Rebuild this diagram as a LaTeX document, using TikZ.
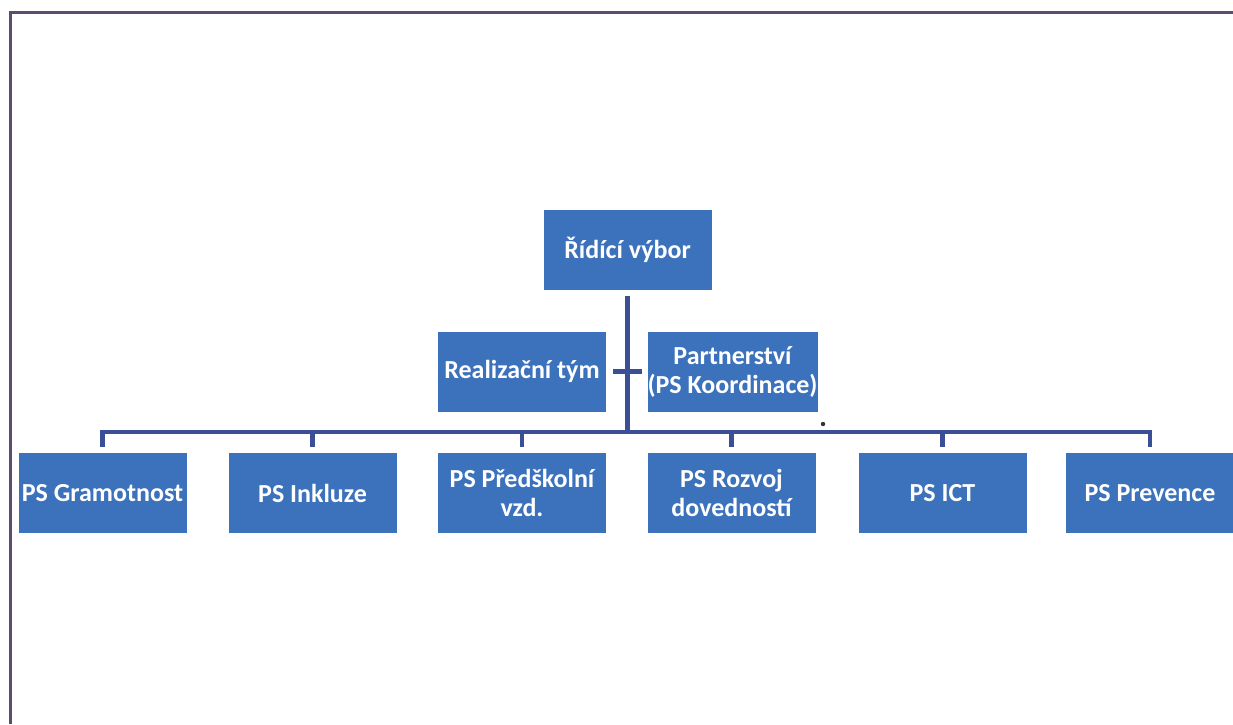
\documentclass[tikz,border=0pt]{standalone}
\usepackage{fontspec}
\setmainfont{Carlito}
\definecolor{boxblue}{HTML}{3C72BC}
\definecolor{connblue}{HTML}{3B4F97}
\definecolor{framec}{HTML}{5E4B70}
\begin{document}
\begin{tikzpicture}[x=1pt,y=-1pt,
  orgbox/.style={draw=none,fill=boxblue,minimum width=168pt,minimum height=80pt,inner sep=0pt,
    text=white,font=\fontsize{26}{29}\selectfont\bfseries,align=center},
  conn/.style={draw=connblue,line width=4.5pt}]
\useasboundingbox (0,0) rectangle (1233,724);
\fill[white] (0,0) rectangle (1233,724);
\draw[framec,line width=3pt] (10.5,724) -- (10.5,12) -- (1233,12);

\node[orgbox] (rv) at (627.5,249.5) {Řídící výbor};
\node[orgbox] (rt) at (522,371.5) {Realizační tým};
\node[orgbox] (pa) at (732.5,371.5) {Partnerství\\(PS Koordinace)};

\node[orgbox] (g1) at (102.5,493) {PS Gramotnost};
\node[orgbox] (g2) at (312.5,493) {PS Inkluze};
\node[orgbox] (g3) at (522,493) {PS Předškolní\\vzd.};
\node[orgbox] (g4) at (731.5,493) {PS Rozvoj\\dovedností};
\node[orgbox] (g5) at (942.5,493) {PS ICT};
\node[orgbox] (g6) at (1150,493) {PS Prevence};

\coordinate (bus) at (628,432);
\draw[conn] ([yshift=-6pt]rv.south) -- (rv.south |- bus);
\draw[conn] ([xshift=7pt]rt.east) -- ([xshift=-5pt]pa.west);
\draw[conn] ([yshift=6pt]g1.north) -- (g1.north |- bus) -- (g6.north |- bus) -- ([yshift=6pt]g6.north);
\foreach \g in {g2,g3,g4,g5}{
  \draw[conn] (\g.north |- bus) -- ([yshift=6pt]\g.north);
}
\fill[black!80] (823,424) circle (2.2pt);
\end{tikzpicture}
\end{document}
